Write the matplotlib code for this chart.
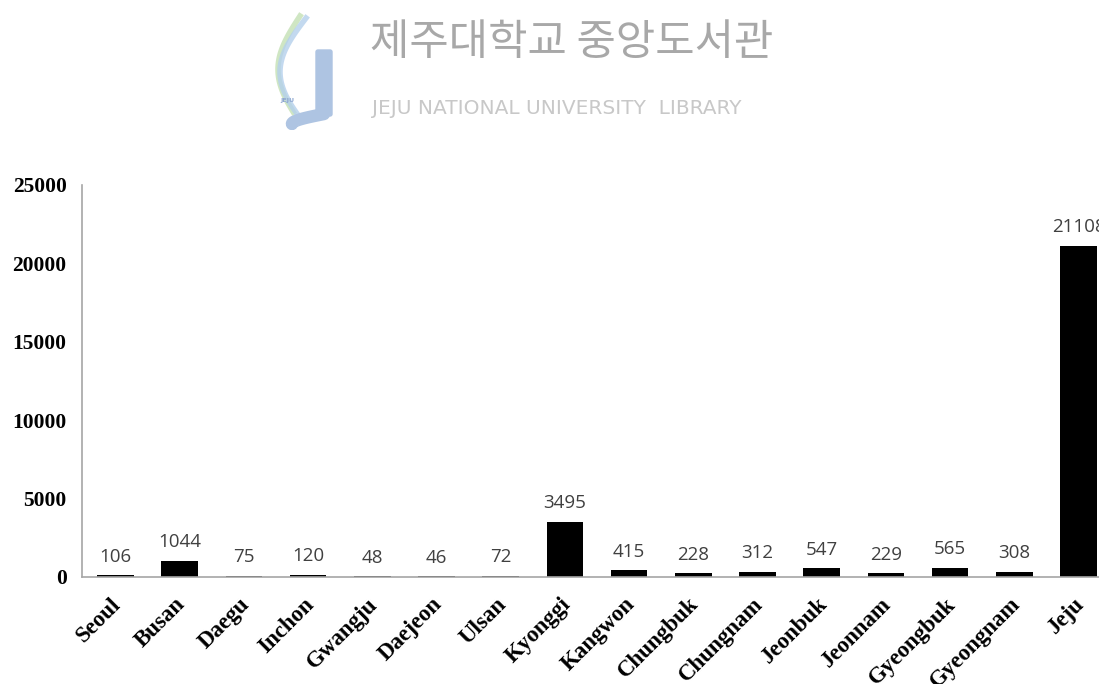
import numpy as np
import matplotlib.pyplot as plt
import matplotlib.transforms as mtransforms
from matplotlib.patches import FancyBboxPatch

# Data
regions = ['Seoul', 'Busan', 'Daegu', 'Inchon', 'Gwangju', 'Daejeon', 'Ulsan',
           'Kyonggi', 'Kangwon', 'Chungbuk', 'Chungnam', 'Jeonbuk', 'Jeonnam',
           'Gyeongbuk', 'Gyeongnam', 'Jeju']
counts = [106, 1044, 75, 120, 48, 46, 72, 3495, 415, 228, 312, 547, 229, 565, 308, 21108]
yticks = [0, 5000, 10000, 15000, 20000, 25000]

fig = plt.figure(figsize=(10.99, 6.84), dpi=100)

# watermark at the top
fig.text(370 / 1099, 1 - 43 / 684, '제주대학교 중앙도서관', family=['Noto Sans CJK KR', 'DejaVu Sans'],
         fontsize=30.8, color='#a8a8a8', va='center', ha='left')
fig.text(372 / 1099, 1 - 108 / 684, 'JEJU NATIONAL UNIVERSITY  LIBRARY', family='DejaVu Sans',
         fontsize=14.5, color='#c8c8c8', va='center', ha='left')
logo = fig.add_axes([270 / 1099, 1 - 130 / 684, 70 / 1099, 118 / 684])
logo.set_xlim(0, 70)
logo.set_ylim(118, 0)
logo.axis('off')
t = np.linspace(0, 1, 50)
logo.plot(30 - 22 * np.sin(np.pi * t * 0.9), 4 + 96 * t, color='#c4e0b4', lw=4, alpha=0.8)
logo.plot(36 - 26 * np.sin(np.pi * t * 0.9), 6 + 97 * t, color='#b4d0ec', lw=4, alpha=0.8)
logo.add_patch(FancyBboxPatch((48, 40), 12, 62, boxstyle='round,pad=2', color='#aec4e2'))
logo.plot(54 - 32 * np.sin(np.pi / 2 * t), 102 + 10 * t,
          color='#aec4e2', lw=9, solid_capstyle='round')
logo.text(17, 90, 'JEJU', fontsize=4.5, color='#8fa8d0', ha='center', fontweight='bold')

# main chart
ax = fig.add_axes([82 / 1099, 1 - 577 / 684, 1030 / 1099, 392 / 684])
x = np.arange(len(regions))
bars = ax.bar(x, counts, width=0.57, color='black')
for xi, c in zip(x, counts):
    ax.annotate(str(c), (xi, c), xytext=(0, 7), textcoords='offset points',
                ha='center', va='bottom', fontsize=13.5, color='#404040', family='Open Sans')

ax.set_xlim(-0.52, 15.52)
ax.set_ylim(0, 25000)
ax.set_yticks(yticks)
ax.set_yticklabels([str(v) for v in yticks], family='Liberation Serif', fontweight='bold',
                   fontsize=15.5)
ax.set_xticks(x)
ax.set_xticklabels(regions, rotation=45, ha='right', va='top', rotation_mode='anchor',
                   family='Liberation Serif', fontweight='bold', fontsize=16.5)
ax.tick_params(axis='both', length=0)
ax.tick_params(axis='y', pad=11)
ax.tick_params(axis='x', pad=12)
shift = mtransforms.ScaledTranslation(-5 / 100, 0, fig.dpi_scale_trans)
for lbl in ax.get_xticklabels():
    lbl.set_transform(lbl.get_transform() + shift)
for s in ['top', 'right']:
    ax.spines[s].set_visible(False)
for s in ['left', 'bottom']:
    ax.spines[s].set_color('#a6a6a6')
    ax.spines[s].set_linewidth(1.2)

fig.savefig('out.png', dpi=100)
